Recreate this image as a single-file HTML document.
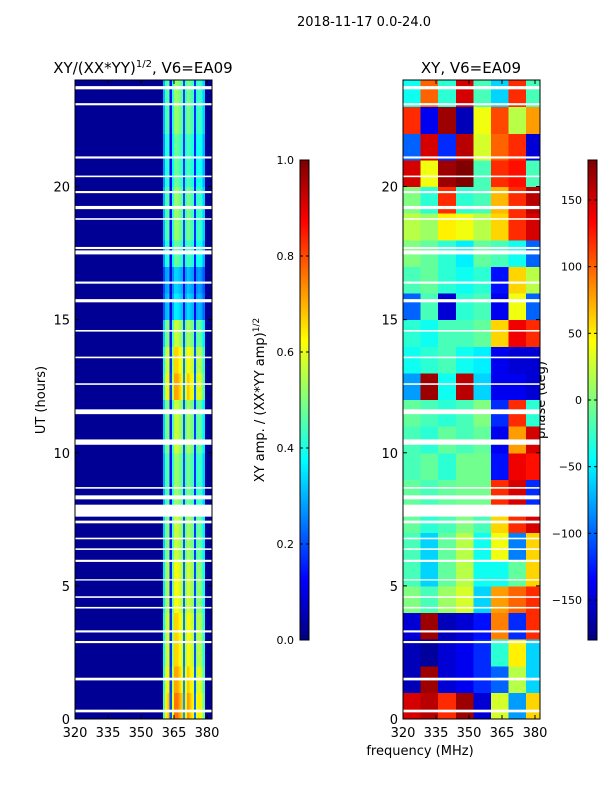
<!DOCTYPE html>
<html><head><meta charset="utf-8">
<style>
body{margin:0;background:#fff;}
svg{display:block;font-family:"DejaVu Sans","Liberation Sans",sans-serif;}
#left rect,#right rect{shape-rendering:crispEdges;}
</style></head>
<body>
<svg id="fig" width="600" height="800" viewBox="0 0 600 800" xmlns="http://www.w3.org/2000/svg">
<text x="364" y="26" font-size="13" text-anchor="middle">2018-11-17 0.0-24.0</text>
<text x="143" y="73" font-size="15" text-anchor="middle">XY/(XX*YY)<tspan font-size="10" dy="-6">1/2</tspan><tspan dy="6">, V6=EA09</tspan></text>
<text x="471" y="73" font-size="15" text-anchor="middle">XY, V6=EA09</text>
<text x="45" y="400" font-size="13" text-anchor="middle" transform="rotate(-90 45 400)">UT (hours)</text>
<text x="264" y="400" font-size="13" text-anchor="middle" transform="rotate(-90 264 400)">XY amp. / (XX*YY amp)<tspan font-size="9" dy="-5">1/2</tspan></text>
<text x="545" y="400" font-size="13" text-anchor="middle" transform="rotate(-90 545 400)">phase (deg)</text>
<text x="420" y="755" font-size="13" text-anchor="middle">frequency (MHz)</text>
<g id="left"></g>
<g id="right"></g>
<g id="overlay"></g>
</svg>
<script>
// ---- data ----
const hourTicks = [0, 5, 10, 15, 20];
const freqTicks = [320, 335, 350, 365, 380];
const ampTicks = [0.0, 0.2, 0.4, 0.6, 0.8, 1.0];
const phaseTicks = [-150, -100, -50, 0, 50, 100, 150];
// amplitude spectral profile, 1 MHz bins from 320 to 381
const ampProfile = [0.02,0.02,0.02,0.02,0.02,0.02,0.02,0.02,0.02,0.02,
 0.02,0.02,0.02,0.02,0.02,0.02,0.02,0.02,0.02,0.02,
 0.02,0.02,0.02,0.02,0.02,0.02,0.02,0.02,0.02,0.02,
 0.02,0.02,0.02,0.02,0.02,0.02,0.02,0.02,0.02,0.02,
 0.55,0.8,0.85,0.25,0.75,0.95,0.95,0.9,0.85,0.35,
 0.8,0.9,0.85,0.8,0.3,0.75,0.8,0.75,0.6,0.02,0.02,0.02];
// amplitude intensity per hour (0..24)
const ampHourly = [0.8,0.75,0.7,0.7,0.65,0.65,0.6,0.6,0.55,0.55,0.6,0.6,0.75,0.7,0.6,0.38,0.35,0.5,0.55,0.55,0.5,0.5,0.55,0.55];
// phase (deg) per hour row (0..24) and 8 freq columns (320..384 step 8)
const phaseGrid = [
 [150,160,120,170,-150,30,-80,60],
 [-160,170,-150,-140,-120,-100,20,-60],
 [-160,-170,-150,-140,-120,-30,50,-60],
 [-150,170,-160,-150,-130,90,-120,120],
 [0,-20,10,30,-60,80,100,120],
 [-20,-60,-10,20,-40,-40,-10,60],
 [-20,-60,-10,20,-40,40,-90,60],
 [-10,-30,-20,0,-20,60,120,150],
 [-10,-20,-10,-5,-5,120,150,-120],
 [-20,-10,-30,-5,-5,-130,140,130],
 [-20,-30,-10,-20,-10,-140,80,150],
 [-10,-20,-30,-20,0,-120,120,-30],
 [-80,170,-40,160,-60,-140,-140,-150],
 [-40,-30,-20,-40,-50,-140,-150,-150],
 [-30,-40,-20,-20,-10,60,140,120],
 [-100,-20,-150,-30,-20,-140,40,-100],
 [-20,-10,-30,-40,-30,-130,60,20],
 [0,-10,-30,-50,-10,-20,-40,-100],
 [20,10,50,40,20,60,120,150],
 [0,-30,120,-30,-20,70,120,160],
 [150,40,170,180,-20,120,130,-20],
 [-100,150,-120,160,30,100,120,-150],
 [120,-140,170,-160,40,110,20,80],
 [-40,100,-30,150,-20,-60,120,-20]];
// flagged (blank) time ranges: start hour and duration
const flagStart = [0.25,1.45,2.85,3.25,4.15,4.55,5.2,5.9,6.35,6.75,7.35,7.6,8.25,8.65,10.3,11.45,12.55,13.55,14.55,15.65,16.35,17.45,17.65,18.75,19.15,19.75,20.35,21.05,23.05,23.65];
const flagDur = [0.1,0.1,0.08,0.08,0.06,0.06,0.05,0.08,0.06,0.06,0.1,0.45,0.15,0.06,0.2,0.18,0.06,0.06,0.06,0.12,0.08,0.15,0.08,0.06,0.12,0.08,0.06,0.08,0.08,0.12];

// ---- scales ----
const Y0=719, Y1=80;
const yS = h => Y0 - (h/24)*(Y0-Y1);
const xL = f => 75 + (f-320)*2.2;
const xR = f => 403 + (f-320)*2.2;
const NS="http://www.w3.org/2000/svg";
function jet(v){v=Math.max(0,Math.min(1,v));
 const r=Math.max(0,Math.min(1,1.5-Math.abs(4*v-3))),g=Math.max(0,Math.min(1,1.5-Math.abs(4*v-2))),b=Math.max(0,Math.min(1,1.5-Math.abs(4*v-1)));
 return `rgb(${Math.round(r*255)},${Math.round(g*255)},${Math.round(b*255)})`;}
function mk(tag,attrs,parent){const e=document.createElementNS(NS,tag);for(const k in attrs)e.setAttribute(k,attrs[k]);parent.appendChild(e);return e;}
const L=document.getElementById('left'), R=document.getElementById('right'), O=document.getElementById('overlay');

// left heatmap background (low amplitude)
const bg=mk('rect',{x:75,y:Y1,width:137,height:Y0-Y1,fill:jet(0.02)},L);


for(let h=0;h<24;h++){
 for(let i=0;i<ampProfile.length;i++){
  if(ampProfile[i]<0.05) continue;
  const v = ampProfile[i]*ampHourly[h];
  const r=mk('rect',{x:xL(320+i),y:yS(h+1),width:2.4,height:yS(h)-yS(h+1)+0.5,fill:jet(v)},L);
  
  
 }
}
// right heatmap
for(let h=0;h<24;h++){
 for(let j=0;j<8;j++){
  const v=phaseGrid[h][j];
  const x0=xR(320+j*8), x1=Math.min(xR(320+(j+1)*8),540);
  const r=mk('rect',{x:x0,y:yS(h+1),width:x1-x0+0.5,height:yS(h)-yS(h+1)+0.5,fill:jet((v+180)/360)},R);
  
  
 }
}
// flags
for(let k=0;k<flagStart.length;k++){
 for(const [x,w] of [[75,137],[403,137]]){
  const r=mk('rect',{x:x,y:yS(flagStart[k]+flagDur[k]),width:w,height:yS(flagStart[k])-yS(flagStart[k]+flagDur[k]),fill:'#fff'},O);
  
  
 }
}
// axes frames and ticks
for(const [ax,xs,name] of [[75,xL,'left'],[403,xR,'right']]){
 const f=mk('rect',{x:ax,y:Y1,width:137,height:Y0-Y1,fill:'none',stroke:'#000','stroke-width':1},O);
 
 
 hourTicks.forEach(h=>{
  mk('line',{x1:ax,x2:ax+4,y1:yS(h),y2:yS(h),stroke:'#000'},O);
  mk('line',{x1:ax+137,x2:ax+133,y1:yS(h),y2:yS(h),stroke:'#000'},O);
  const t=mk('text',{x:ax-5,y:yS(h)+5,'font-size':13,'text-anchor':'end'},O);t.textContent=h;
  
  
 });
 freqTicks.forEach(fq=>{
  mk('line',{x1:xs(fq),x2:xs(fq),y1:Y0,y2:Y0-4,stroke:'#000'},O);
  mk('line',{x1:xs(fq),x2:xs(fq),y1:Y1,y2:Y1+4,stroke:'#000'},O);
  const t=mk('text',{x:xs(fq),y:Y0+18,'font-size':13,'text-anchor':'middle'},O);t.textContent=fq;
  
  
 });
}
// colorbars
function colorbar(x,name,ticks,lo,hi,fmt){
 for(let i=0;i<240;i++){
  mk('rect',{x:x,y:640-(i+1)*2,width:9,height:2.3,fill:jet(i/239),'shape-rendering':'crispEdges'},O);
 }
 const f=mk('rect',{x:x,y:160,width:9,height:480,fill:'none',stroke:'#000'},O);
 
 
 ticks.forEach(v=>{const y=640-(v-lo)/(hi-lo)*480;
  mk('line',{x1:x,x2:x+3,y1:y,y2:y,stroke:'#000'},O);
  mk('line',{x1:x+9,x2:x+6,y1:y,y2:y,stroke:'#000'},O);
  const t=mk('text',{x:x-6,y:y+4,'font-size':11,'text-anchor':'end'},O);t.textContent=fmt(v);
  
  
 });
}
colorbar(300,'amp-colorbar',ampTicks,0,1,v=>v.toFixed(1));
colorbar(588,'phase-colorbar',phaseTicks,-180,180,v=>v<0?'\u2212'+(-v):''+v);
</script>
</body></html>
